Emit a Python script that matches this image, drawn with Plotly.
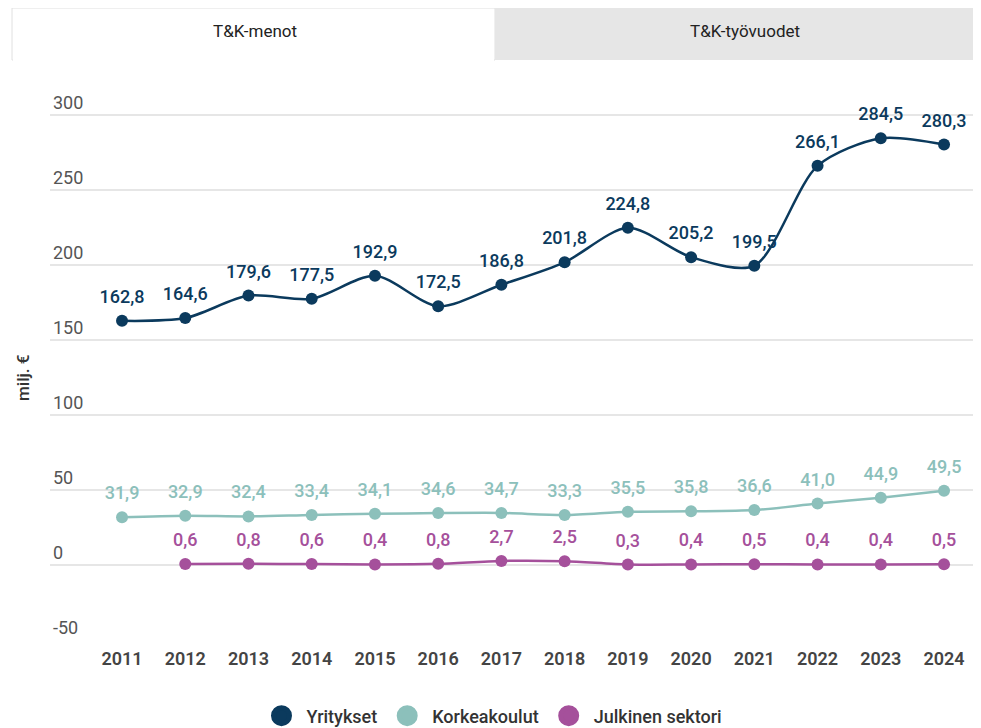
import plotly.graph_objects as go

years = [2011, 2012, 2013, 2014, 2015, 2016, 2017, 2018, 2019, 2020, 2021, 2022, 2023, 2024]
yritykset = [162.8, 164.6, 179.6, 177.5, 192.9, 172.5, 186.8, 201.8, 224.8, 205.2, 199.5, 266.1, 284.5, 280.3]
korkeakoulut = [31.9, 32.9, 32.4, 33.4, 34.1, 34.6, 34.7, 33.3, 35.5, 35.8, 36.6, 41.0, 44.9, 49.5]
julkinen = [None, 0.6, 0.8, 0.6, 0.4, 0.8, 2.7, 2.5, 0.3, 0.4, 0.5, 0.4, 0.4, 0.5]
series_names = ["Yritykset", "Korkeakoulut", "Julkinen sektori"]
series_colors = ["#0b3a5d", "#8cc0bb", "#a5509b"]
y_ticks = [-50, 0, 50, 100, 150, 200, 250, 300]
y_ticktext = ["-50", "0", "50", "100", "150", "200", "250", "300"]
tab_labels = ["T&K-menot", "T&K-työvuodet"]

OFF = 8  # page body margin
W, H = 973, 720
L, R, T, B = 42, 6, 70, 88
PW, PH = W - L - R, H - T - B
Y_TOP = -50 + PH / 1.5

def px(sx):
    return (sx - OFF - L) / PW

def py(sy):
    return (H - B - (sy - OFF)) / PH

fig = go.Figure()
FONT = "Roboto, Arial, sans-serif"

for name, vals, col in zip(series_names, [yritykset, korkeakoulut, julkinen], series_colors):
    fig.add_trace(go.Scatter(
        x=years, y=vals, mode="lines+markers", name=name,
        line=dict(color=col, width=2.5, shape="spline", smoothing=0.8),
        marker=dict(color=col, size=12),
        showlegend=False, connectgaps=False, hoverinfo="skip",
    ))
    fig.add_trace(go.Scatter(
        x=years, y=vals, mode="markers+text", name=name,
        marker=dict(color=col, size=20, opacity=0),
        text=[None if v is None else f"{v:.1f}".replace(".", ",") for v in vals],
        textposition="top center",
        textfont=dict(color=col, size=18, family=FONT, weight=500),
        cliponaxis=False, showlegend=False,
    ))
    fig.add_trace(go.Scatter(
        x=[None], y=[None], mode="markers", name=name,
        marker=dict(color=col, size=16, line=dict(color=col, width=5)), showlegend=True,
    ))

shapes = [
    dict(type="line", xref="paper", yref="paper", x0=px(5), x1=px(981), y0=py(4), y1=py(4),
         line=dict(color="#e6e6e6", width=2)),
    dict(type="rect", xref="paper", yref="paper", x0=px(12), x1=px(495), y0=py(8), y1=py(60),
         fillcolor="#ffffff", line=dict(color="#e0e0e0", width=1)),
    dict(type="rect", xref="paper", yref="paper", x0=px(495), x1=px(981), y0=py(8), y1=py(60),
         fillcolor="#e6e6e6", line=dict(width=0)),
    dict(type="line", xref="paper", yref="paper", x0=px(13), x1=px(494), y0=py(60), y1=py(60),
         line=dict(color="#ffffff", width=2)),
]

annotations = [
    dict(text=tab_labels[0], xref="paper", yref="paper", x=px(255), y=py(31), showarrow=False,
         font=dict(size=17, color="#222222", family=FONT), xanchor="center", yanchor="middle"),
    dict(text=tab_labels[1], xref="paper", yref="paper", x=px(745), y=py(31), showarrow=False,
         font=dict(size=17, color="#222222", family=FONT), xanchor="center", yanchor="middle"),
    dict(text="milj. €", xref="paper", yref="paper", x=px(23), y=py(378), showarrow=False,
         textangle=-90, font=dict(size=17, color="#333333", family=FONT, weight=500),
         xanchor="center", yanchor="middle"),
]

fig.update_layout(
    width=W, height=H,
    margin=dict(l=L, r=R, t=T, b=B),
    paper_bgcolor="#ffffff", plot_bgcolor="#ffffff",
    separators=", ",
    font=dict(family=FONT, size=18, color="#333333"),
    shapes=shapes, annotations=annotations,
    legend=dict(orientation="h", xref="container", yref="container", x=(492 - OFF) / W,
                xanchor="center", y=(H - (716 - OFF)) / H, yanchor="middle",
                font=dict(size=18, color="#333333", family=FONT, weight=500),
                itemsizing="trace", itemwidth=40, bgcolor="rgba(0,0,0,0)"),
    xaxis=dict(range=[2009.861, 2024.49], tickmode="array", tickvals=years,
               ticktext=[str(y) for y in years], showgrid=False, zeroline=False, showline=False,
               ticks="", ticklabelstandoff=6,
               tickfont=dict(size=18, color="#444444", family=FONT, weight=600),
               fixedrange=True),
    yaxis=dict(range=[-50, Y_TOP], tickmode="array", tickvals=y_ticks, ticktext=y_ticktext,
               showgrid=True, gridcolor="#e6e6e6", gridwidth=2, zeroline=False, showline=False,
               ticks="", ticklabelposition="inside top",
               tickfont=dict(size=18, color="#555555", family=FONT), fixedrange=True),
)

fig.write_html("out.html")
